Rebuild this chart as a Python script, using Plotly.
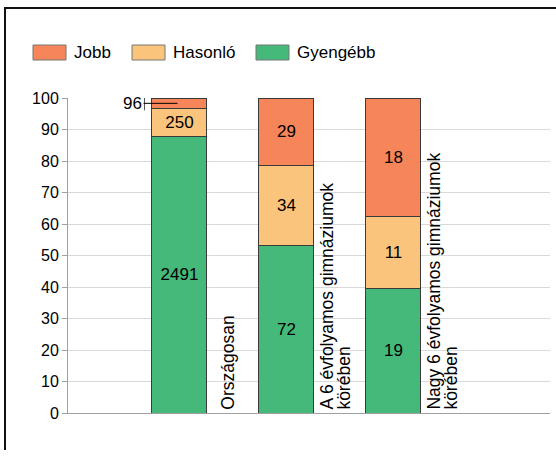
import plotly.graph_objects as go

# ---- data ----
categories = [
    ["Országosan"],
    ["A 6 évfolyamos gimnáziumok", "körében"],
    ["Nagy 6 évfolyamos gimnáziumok", "körében"],
]
series_names = ["Gyengébb", "Hasonló", "Jobb"]
gyengebb = [2491, 72, 19]
hasonlo = [250, 34, 11]
jobb = [96, 29, 18]
y_ticks = [0, 10, 20, 30, 40, 50, 60, 70, 80, 90, 100]

colors = {"Gyengébb": "#45B97A", "Hasonló": "#FAC47C", "Jobb": "#F6865A"}
values = {"Gyengébb": gyengebb, "Hasonló": hasonlo, "Jobb": jobb}
legend_order = ["Jobb", "Hasonló", "Gyengébb"]

W, H = 556, 457
L, R, T, B = 68, 6, 98, 44
pw, ph = W - L - R, H - T - B


def px(xp):
    return (xp - L) / pw


def py(yp):
    return (H - B - yp) / ph


xs = list(range(len(categories)))
totals = [sum(v[i] for v in values.values()) for i in xs]

fig = go.Figure()
for name in series_names:
    vals = values[name]
    txt = [str(v) if v / t * 100 >= 5 else "" for v, t in zip(vals, totals)]
    fig.add_trace(go.Bar(
        x=xs, y=vals, name=name, width=0.514,
        marker=dict(color=colors[name], line=dict(color="#3a3a3a", width=1)),
        text=txt, textposition="inside", insidetextanchor="middle",
        textangle=0, textfont=dict(size=17, color="black"),
        showlegend=False,
    ))

annotations = []
shapes = []

# small-segment label (Jobb in first bar) with leader line
i_small = 0
pct_jobb = jobb[i_small] / totals[i_small] * 100
y_mid = 100 - pct_jobb / 2
annotations.append(dict(
    x=xs[i_small], y=y_mid, xref="x", yref="y", text=str(jobb[i_small]),
    showarrow=True, arrowhead=0, arrowwidth=1, arrowcolor="black",
    ax=-47, ay=0, axref="pixel", ayref="pixel", standoff=2,
    font=dict(size=17, color="black"),
))
shapes.append(dict(
    type="line", xref="x", yref="y", xsizemode="pixel", ysizemode="pixel",
    xanchor=xs[i_small], yanchor=y_mid, x0=-35, x1=-35, y0=-7, y1=7,
    line=dict(color="#555555", width=1),
))

# rotated category labels
for i, lines in zip(xs, categories):
    n = len(lines)
    for k, line in enumerate(lines):
        annotations.append(dict(
            x=i + 0.45, y=0, xref="x", yref="y", text=line, showarrow=False,
            textangle=-90, xanchor="center", yanchor="bottom",
            xshift=(k - (n - 1) / 2) * 17, yshift=1,
            font=dict(size=17.5, color="black"),
        ))

# manual legend
legend_x = {"Jobb": 33, "Hasonló": 132, "Gyengébb": 256}
for name in legend_order:
    x0 = legend_x[name]
    shapes.append(dict(
        type="rect", xref="paper", yref="paper",
        x0=px(x0), x1=px(x0 + 33), y0=py(60), y1=py(45),
        fillcolor=colors[name], line=dict(color="#777777", width=1),
    ))
    annotations.append(dict(
        x=px(x0 + 39), y=py(52.5), xref="paper", yref="paper", text=name,
        showarrow=False, xanchor="left", yanchor="middle",
        font=dict(size=17, color="black"),
    ))

# outer frame (top and left edges)
shapes.append(dict(
    type="path", xref="paper", yref="paper",
    path=f"M {px(5)} {py(450)} L {px(5)} {py(8)} L {px(560)} {py(8)}",
    line=dict(color="#111111", width=2),
))

fig.update_layout(
    width=W, height=H,
    margin=dict(l=L, r=R, t=T, b=B, pad=0),
    barmode="stack", barnorm="percent",
    paper_bgcolor="white", plot_bgcolor="white",
    font=dict(family="Liberation Sans, Arial, sans-serif", size=16, color="black"),
    xaxis=dict(range=[-1.042, 3.463], showticklabels=False, ticks="",
               showgrid=False, zeroline=False, showline=True,
               linecolor="#a0a0a0", linewidth=1, fixedrange=True),
    yaxis=dict(range=[0, 100], tickvals=y_ticks, ticks="outside", ticklen=5,
               tickcolor="#a0a0a0", showgrid=True, gridcolor="#d9d9d9",
               zeroline=False, showline=True, linecolor="#a0a0a0", linewidth=1,
               tickfont=dict(size=16), fixedrange=True),
    annotations=annotations, shapes=shapes,
    showlegend=False,
)

fig.write_html("out.html", config={"displayModeBar": False},
               post_script="document.body.style.margin='0px';")
